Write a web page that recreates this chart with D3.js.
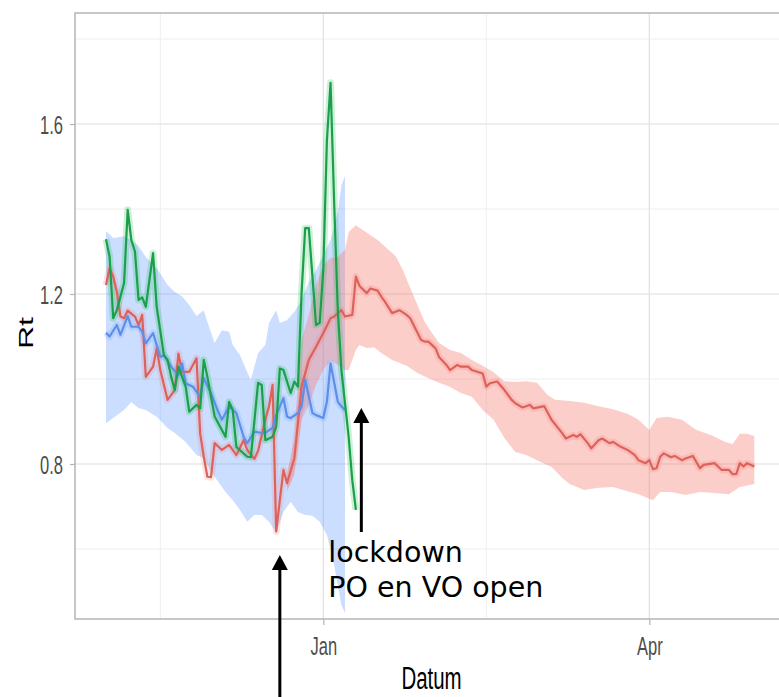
<!DOCTYPE html>
<html>
<head>
<meta charset="utf-8">
<script src="https://cdn.jsdelivr.net/npm/d3@7"></script>
<style>
  html, body { margin: 0; padding: 0; background: #ffffff; }
  svg { display: block; }
</style>
</head>
<body>
<svg id="chart" width="779" height="697"></svg>
<script>
// ---- data (day offsets relative to 2021-01-01) ----
const baseDate = Date.UTC(2021, 0, 1);

const redDay = [-60,-59,-58,-57,-56,-55,-54,-52,-51,-50,-49,-47,-46,-45,-43,-41,-40,-39,-37,-35,-34,-33,-32,-31,-30,-28,-26,-24,-22,-21,-19,-18,-16,-15,-14,-13,-12,-11,-10,-8,-7,-6,-4,-2,0,2,3,5,6,8,9,10,12,13,15,16,17,19,21,23,24,27,28,29,31,32,34,35,37,38,40,41,44,45,46,48,50,52,53,55,57,58,61,63,66,67,69,70,71,73,74,76,77,79,80,82,84,86,87,89,90,91,92,93,94,96,97,99,100,102,104,105,108,110,112,113,114,115,116,117,119];
const redRt = [1.221,1.260,1.241,1.205,1.147,1.143,1.161,1.147,1.127,1.151,1.005,1.029,1.072,1.021,0.951,0.974,1.060,1.017,1.017,1.049,0.872,0.817,0.770,0.769,0.849,0.833,0.845,0.821,0.856,0.833,0.812,0.831,0.904,0.935,0.986,0.641,0.715,0.786,0.755,0.813,0.896,0.982,1.045,1.076,1.108,1.143,1.147,1.162,1.147,1.151,1.241,1.219,1.202,1.213,1.208,1.194,1.182,1.155,1.162,1.151,1.143,1.092,1.088,1.088,1.072,1.051,1.033,1.021,1.033,1.029,1.029,1.021,1.013,0.982,0.990,0.994,0.974,0.951,0.943,0.933,0.939,0.931,0.936,0.904,0.872,0.860,0.868,0.864,0.870,0.849,0.837,0.856,0.860,0.849,0.852,0.841,0.833,0.821,0.809,0.802,0.809,0.788,0.790,0.817,0.825,0.816,0.819,0.809,0.813,0.819,0.790,0.798,0.802,0.786,0.786,0.776,0.776,0.802,0.794,0.802,0.794];

const greenDay = [-60,-59,-58,-57,-55,-54,-53,-52,-51,-50,-49,-47,-46,-44,-43,-42,-41,-40,-38,-37,-35,-34,-33,-32,-30,-27,-26,-25,-24,-21,-20,-18,-17,-16,-14,-13,-12,-11,-9,-8,-7,-6,-5,-4,-2,-1,0,1,2,3,4,5,7,8,9];
const greenRt = [1.329,1.288,1.143,1.162,1.226,1.398,1.327,1.300,1.186,1.192,1.170,1.296,1.170,1.056,1.045,1.005,0.974,1.029,0.982,0.923,0.939,0.931,1.045,1.005,0.912,0.864,0.946,0.927,0.840,0.817,0.816,0.991,0.986,0.856,0.864,0.888,1.025,1.021,0.967,0.994,0.982,1.202,1.355,1.355,1.127,1.132,1.256,1.562,1.697,1.414,1.162,1.021,0.864,0.762,0.692];

const blueDay = [-60,-59,-57,-56,-54,-53,-51,-50,-49,-47,-45,-44,-42,-40,-39,-38,-36,-34,-33,-31,-29,-28,-26,-24,-22,-21,-19,-17,-16,-14,-13,-11,-10,-9,-7,-6,-5,-3,-2,0,1,2,4,5,6];
const blueRt = [1.109,1.100,1.127,1.104,1.148,1.123,1.123,1.111,1.084,1.108,1.052,1.056,1.029,1.009,1.037,0.990,0.982,0.958,1.002,0.966,0.923,0.904,0.935,0.920,0.864,0.849,0.876,0.873,0.873,0.885,0.915,0.955,0.911,0.908,0.920,0.935,0.998,0.920,0.915,0.908,0.947,1.037,0.947,0.935,0.927];

const blueUpDay = [-60,-58,-55,-53,-51,-49,-46,-43,-41,-39,-37,-35,-33,-32,-30,-28,-26,-25,-23,-21,-20,-18,-16,-15,-13,-12,-10,-8,-6,-4,-2,0,2,4,5,6];
const blueUpper = [1.348,1.332,1.336,1.327,1.313,1.287,1.261,1.221,1.205,1.195,1.174,1.148,1.162,1.134,1.085,1.115,1.111,1.080,1.056,1.016,0.998,1.061,1.080,1.132,1.162,1.132,1.139,1.158,1.186,1.228,1.256,1.292,1.327,1.393,1.456,1.478];
const blueLowDay = [-60,-57,-55,-53,-51,-49,-46,-43,-41,-38,-35,-33,-31,-29,-27,-25,-23,-21,-19,-17,-15,-13,-11,-9,-7,-5,-3,-1,1,3,5,6];
const blueLower = [0.896,0.915,0.927,0.946,0.932,0.927,0.911,0.885,0.873,0.852,0.821,0.814,0.781,0.758,0.734,0.715,0.692,0.664,0.680,0.680,0.664,0.638,0.687,0.711,0.687,0.680,0.678,0.664,0.633,0.562,0.468,0.449];

const redUpDay = [-10,-8,-6,-4,-2,0,2,4,6,7,9,12,15,18,20,22,24,26,28,30,32,35,38,41,44,47,50,53,56,59,62,64,68,72,76,80,84,87,90,92,95,99,103,107,111,113,115,117,119];
const redUpper = [0.775,0.860,1.092,1.151,1.221,1.268,1.285,1.287,1.304,1.346,1.362,1.344,1.327,1.304,1.289,1.256,1.214,1.174,1.134,1.108,1.085,1.068,1.061,1.045,1.031,1.016,0.995,0.993,0.995,0.991,0.962,0.951,0.948,0.944,0.936,0.929,0.918,0.904,0.880,0.908,0.911,0.904,0.880,0.868,0.852,0.847,0.871,0.871,0.866];
const redLowDay = [-10,-8,-6,-4,-2,0,2,4,6,7,9,10,12,14,16,19,23,26,29,32,35,38,41,44,47,50,53,56,60,63,66,68,72,76,80,84,87,90,91,93,96,100,104,108,112,115,119];
const redLower = [0.735,0.775,0.904,0.939,0.986,1.021,1.045,1.033,1.021,1.021,1.068,1.080,1.073,1.075,1.061,1.045,1.031,1.014,1.002,0.991,0.981,0.967,0.958,0.927,0.904,0.861,0.828,0.821,0.805,0.793,0.767,0.753,0.739,0.744,0.746,0.736,0.729,0.718,0.715,0.734,0.734,0.727,0.734,0.732,0.729,0.746,0.753];

const yMajor = [0.8, 1.2, 1.6];
const yMinor = [0.6, 1.0, 1.4, 1.8];
const xMajorLabels = ["Jan", "Apr"];
const xMajor = [new Date(Date.UTC(2021, 0, 1)), new Date(Date.UTC(2021, 3, 1))];
const xMinor = [new Date(Date.UTC(2020, 10, 17)), new Date(Date.UTC(2021, 1, 15))];

const annotations = [
  { date: new Date(Date.UTC(2021, 0, 11, 12)), tip: 0.932, tail: 0.640, lines: ["lockdown", "PO en VO open"] },
  { date: new Date(Date.UTC(2020, 11, 20)), tip: 0.586, tail: 0.25, lines: [] }
];

// ---- helpers ----
const toDate = d => new Date(baseDate + d * 86400000);
const pts = (days, vals) => days.map((d, i) => ({ date: toDate(d), v: vals[i] }));

// ---- layout ----
const svg = d3.select("#chart");
const panel = { left: 75, top: 13, right: 788, bottom: 619 };

const x = d3.scaleUtc().domain(xMajor).range([323.3, 649.3]);
const y = d3.scaleLinear().domain([0.8, 1.6]).range([464, 124]);

svg.append("defs").append("clipPath").attr("id", "clip")
  .append("rect").attr("x", panel.left).attr("y", panel.top)
  .attr("width", panel.right - panel.left).attr("height", panel.bottom - panel.top);

// grid
const grid = svg.append("g");
grid.selectAll(".hmin").data(yMinor).join("line")
  .attr("x1", panel.left).attr("x2", panel.right)
  .attr("y1", d => y(d)).attr("y2", d => y(d))
  .attr("stroke", "#eeeeee").attr("stroke-width", 1);
grid.selectAll(".vmin").data(xMinor).join("line")
  .attr("y1", panel.top).attr("y2", panel.bottom)
  .attr("x1", d => x(d)).attr("x2", d => x(d))
  .attr("stroke", "#efefef").attr("stroke-width", 1);
grid.selectAll(".hmaj").data(yMajor).join("line")
  .attr("x1", panel.left).attr("x2", panel.right)
  .attr("y1", d => y(d)).attr("y2", d => y(d))
  .attr("stroke", "#dddddd").attr("stroke-width", 1.2);
grid.selectAll(".vmaj").data(xMajor).join("line")
  .attr("y1", panel.top).attr("y2", panel.bottom)
  .attr("x1", d => x(d)).attr("x2", d => x(d))
  .attr("stroke", "#e0e0e0").attr("stroke-width", 1.2);

const plot = svg.append("g").attr("clip-path", "url(#clip)");
const line = d3.line().x(d => x(d.date)).y(d => y(d.v));

function band(upDays, upVals, lowDays, lowVals) {
  const up = pts(upDays, upVals);
  const low = pts(lowDays, lowVals).reverse();
  return line(up.concat(low)) + "Z";
}

// bands
plot.append("path").attr("d", band(blueUpDay, blueUpper, blueLowDay, blueLower))
  .attr("fill", "#619CFF").attr("fill-opacity", 0.33);
plot.append("path").attr("d", band(redUpDay, redUpper, redLowDay, redLower))
  .attr("fill", "#F8766D").attr("fill-opacity", 0.36);

// lines with soft halos
const series = [
  { days: redDay, vals: redRt, color: "#dc625c", halo: "#F8766D" },
  { days: blueDay, vals: blueRt, color: "#5d8fe8", halo: "#619CFF" },
  { days: greenDay, vals: greenRt, color: "#1c9f4c", halo: "#00BA38" }
];
series.forEach(s => {
  plot.append("path").attr("d", line(pts(s.days, s.vals)))
    .attr("fill", "none").attr("stroke", s.halo).attr("stroke-opacity", 0.2)
    .attr("stroke-width", 7).attr("stroke-linejoin", "round");
});
series.forEach(s => {
  plot.append("path").attr("d", line(pts(s.days, s.vals)))
    .attr("fill", "none").attr("stroke", s.color)
    .attr("stroke-width", 2.2).attr("stroke-linejoin", "round");
});

// panel border
svg.append("path")
  .attr("d", `M${panel.right},${panel.top}H${panel.left}V${panel.bottom}H${panel.right}`)
  .attr("fill", "none").attr("stroke", "#b5b5b5").attr("stroke-width", 1.5);

// axes
const SX = 0.66;
const yAxis = svg.append("g").attr("transform", `translate(${panel.left},0)`)
  .call(d3.axisLeft(y).tickValues(yMajor).tickFormat(d3.format(".1f")).tickSize(5).tickPadding(0));
yAxis.select(".domain").remove();
yAxis.selectAll(".tick line").attr("stroke", "#b5b5b5").attr("stroke-width", 1.2);
yAxis.selectAll(".tick text")
  .attr("x", -12 / SX).attr("dy", "0.36em")
  .attr("transform", `scale(${SX},1)`)
  .attr("fill", "#4d4d4d").attr("font-family", "Liberation Sans, Arial, sans-serif")
  .attr("font-size", 25);

const xAxis = svg.append("g").attr("transform", `translate(0,${panel.bottom})`)
  .call(d3.axisBottom(x).tickValues(xMajor).tickFormat((d, i) => xMajorLabels[i]).tickSize(6).tickPadding(0));
xAxis.select(".domain").remove();
xAxis.selectAll(".tick line").attr("stroke", "#b5b5b5").attr("stroke-width", 1.2);
xAxis.selectAll(".tick text")
  .attr("y", 36).attr("dy", 0)
  .attr("transform", `scale(${SX},1)`)
  .attr("fill", "#4d4d4d").attr("font-family", "Liberation Sans, Arial, sans-serif")
  .attr("font-size", 25);

// axis titles
svg.append("text")
  .attr("transform", `translate(${(panel.left + panel.right) / 2},689) scale(${SX},1)`)
  .attr("text-anchor", "middle").attr("font-family", "Liberation Sans, Arial, sans-serif")
  .attr("font-size", 31).attr("fill", "#000").text("Datum");
svg.append("text")
  .attr("transform", `translate(33,${(y(0.8) + y(1.6)) / 2 + 39}) scale(${SX},1) rotate(-90)`)
  .attr("text-anchor", "middle").attr("font-family", "Liberation Sans, Arial, sans-serif")
  .attr("font-size", 32).attr("fill", "#000").text("Rt");

// annotations
const ann = svg.append("g");
annotations.forEach(a => {
  const ax = x(a.date), tipY = y(a.tip), tailY = y(a.tail);
  ann.append("line").attr("x1", ax).attr("x2", ax).attr("y1", tailY).attr("y2", tipY + 10)
    .attr("stroke", "#000").attr("stroke-width", 3);
  ann.append("path")
    .attr("d", `M${ax},${tipY}L${ax - 8},${tipY + 15}L${ax + 8},${tipY + 15}Z`)
    .attr("fill", "#000");
  a.lines.forEach((t, i) => {
    ann.append("text").attr("x", ax - 33).attr("y", tailY + 30 + i * 35)
      .attr("font-family", "DejaVu Sans, sans-serif").attr("font-size", 28.5)
      .attr("fill", "#000").text(t);
  });
});
</script>
</body>
</html>
